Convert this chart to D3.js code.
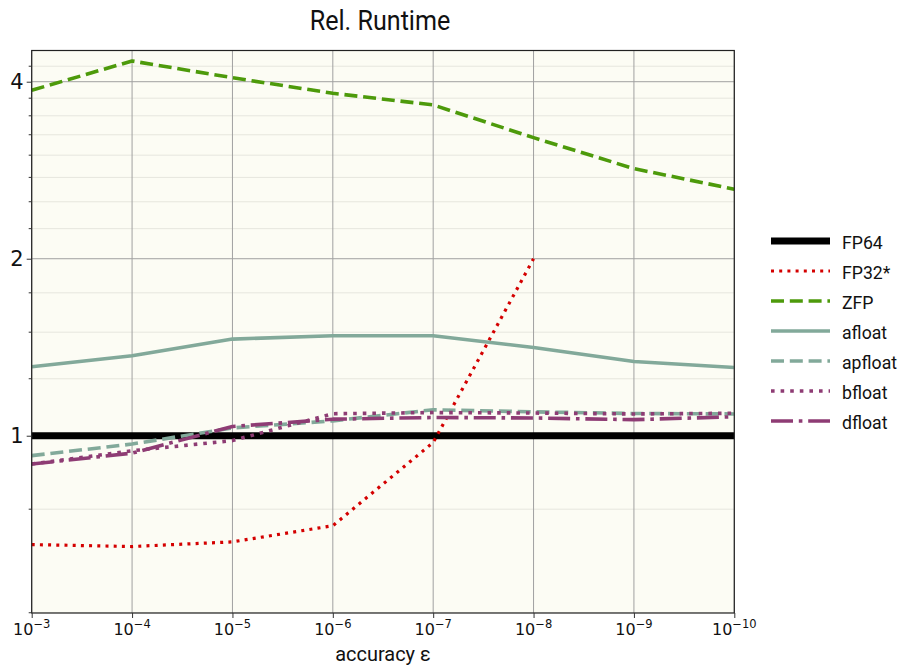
<!DOCTYPE html>
<html>
<head>
<meta charset="utf-8">
<script src="https://cdn.jsdelivr.net/npm/d3@7"></script>
<style>
  html, body { margin: 0; padding: 0; background: #ffffff; }
  svg { display: block; }
</style>
</head>
<body>
<svg id="chart" width="903" height="666"></svg>
<script>
// accuracy exponents (10^-k)
const exponents = [3, 4, 5, 6, 7, 8, 9, 10];

// relative runtime per format
const fp64    = [1, 1, 1, 1, 1, 1, 1, 1];
const fp32    = [0.653, 0.648, 0.660, 0.703, 0.974, 2.0];
const zfp     = [3.868, 4.338, 4.063, 3.823, 3.652, 3.213, 2.846, 2.626];
const afloat  = [1.310, 1.368, 1.460, 1.479, 1.479, 1.413, 1.337, 1.306];
const apfloat = [0.925, 0.968, 1.031, 1.060, 1.107, 1.098, 1.091, 1.089];
const bfloat  = [0.895, 0.943, 0.981, 1.090, 1.095, 1.093, 1.089, 1.092];
const dfloat  = [0.895, 0.934, 1.037, 1.067, 1.074, 1.072, 1.065, 1.077];

const yMajor = [1, 2, 4];
const yMinor = [0.5, 0.75, 1.25, 1.5, 1.75, 2.25, 2.5, 2.75, 3, 3.25, 3.5, 3.75, 4.25];

const series = [
  { name: "FP64",    values: fp64,    color: "#000000", width: 7,   dash: null },
  { name: "FP32*",   values: fp32,    color: "#d40000", width: 3.2, dash: "3,5.2" },
  { name: "ZFP",     values: zfp,     color: "#4d9a0b", width: 3.6, dash: "13,5.8" },
  { name: "afloat",  values: afloat,  color: "#82a99a", width: 3.6, dash: null },
  { name: "apfloat", values: apfloat, color: "#82a99a", width: 3.6, dash: "13,5.8" },
  { name: "bfloat",  values: bfloat,  color: "#8e3c74", width: 3.6, dash: "3.6,6" },
  { name: "dfloat",  values: dfloat,  color: "#8e3c74", width: 3.6, dash: "22,5.8,3.6,5.8" }
];

const svg = d3.select("#chart");
const plotLeft = 31.7, plotRight = 734.3, plotTop = 50.5, plotBottom = 613;

const x = d3.scaleLog().domain([1e-3, 1e-10]).range([plotLeft, plotRight]);
const y = d3.scaleLog().base(2).domain([0.4995, 4.52]).range([plotBottom, plotTop]);

// narrow a Roboto label horizontally, like a condensed face
function condense(sel, factor) {
  sel.each(function () {
    const w = this.getComputedTextLength();
    d3.select(this).attr("textLength", w * factor).attr("lengthAdjust", "spacingAndGlyphs");
  });
}

// plot background
svg.append("rect")
  .attr("x", plotLeft).attr("y", plotTop)
  .attr("width", plotRight - plotLeft).attr("height", plotBottom - plotTop)
  .attr("fill", "#fcfcf4");

// minor horizontal grid
svg.append("g").selectAll("line").data(yMinor).join("line")
  .attr("x1", plotLeft).attr("x2", plotRight)
  .attr("y1", d => y(d)).attr("y2", d => y(d))
  .attr("stroke", "#e6e6de").attr("stroke-width", 1);

// major grid
svg.append("g").selectAll("line").data(yMajor).join("line")
  .attr("x1", plotLeft).attr("x2", plotRight)
  .attr("y1", d => y(d)).attr("y2", d => y(d))
  .attr("stroke", "#a0a0a0").attr("stroke-width", 1);

svg.append("g").selectAll("line").data(exponents).join("line")
  .attr("x1", d => x(Math.pow(10, -d))).attr("x2", d => x(Math.pow(10, -d)))
  .attr("y1", plotTop).attr("y2", plotBottom)
  .attr("stroke", "#a0a0a0").attr("stroke-width", 1);

// lines
const plot = svg.append("g");
series.forEach(s => {
  const line = d3.line()
    .x((d, i) => x(Math.pow(10, -exponents[i])))
    .y(d => y(d));
  plot.append("path")
    .datum(s.values)
    .attr("d", line)
    .attr("fill", "none")
    .attr("stroke", s.color)
    .attr("stroke-width", s.width)
    .attr("stroke-dasharray", s.dash)
    .attr("stroke-linecap", "butt")
    .attr("stroke-linejoin", "round");
});

// frame
svg.append("rect")
  .attr("x", plotLeft).attr("y", plotTop)
  .attr("width", plotRight - plotLeft).attr("height", plotBottom - plotTop)
  .attr("fill", "none").attr("stroke", "#222").attr("stroke-width", 1.2);

// y axis
const yAxis = svg.append("g").attr("transform", `translate(${plotLeft},0)`)
  .call(d3.axisLeft(y).tickValues(yMajor).tickFormat(d3.format("d")).tickSize(5).tickPadding(3));
yAxis.select(".domain").remove();
yAxis.selectAll("text").attr("font-family", "DejaVu Sans").attr("font-size", 21).attr("fill", "#111");
yAxis.selectAll("line").attr("stroke", "#333");

svg.append("g").selectAll("line").data(yMinor).join("line")
  .attr("x1", plotLeft - 3).attr("x2", plotLeft)
  .attr("y1", d => y(d)).attr("y2", d => y(d))
  .attr("stroke", "#333").attr("stroke-width", 1);

// x axis with superscript exponents
const xAxis = svg.append("g").attr("transform", `translate(0,${plotBottom})`)
  .call(d3.axisBottom(x).tickValues(exponents.map(e => Math.pow(10, -e))).tickFormat("").tickSize(5));
xAxis.select(".domain").remove();
xAxis.selectAll("line").attr("stroke", "#333");

const xl = svg.append("g");
exponents.forEach(e => {
  const t = xl.append("text")
    .attr("x", x(Math.pow(10, -e)))
    .attr("y", 635)
    .attr("text-anchor", "middle")
    .attr("font-family", "DejaVu Sans")
    .attr("font-size", 16)
    .attr("fill", "#111");
  t.append("tspan").text("10");
  t.append("tspan").attr("dy", -7).attr("font-size", 11.5).text("\u2212" + e);
});

// axis title and chart title
svg.append("text")
  .attr("x", 383).attr("y", 661)
  .attr("text-anchor", "middle")
  .attr("font-family", "Roboto").attr("font-size", 21)
  .attr("fill", "#111")
  .text("accuracy \u03b5")
  .call(condense, 0.95);

svg.append("text")
  .attr("x", 380).attr("y", 30)
  .attr("text-anchor", "middle")
  .attr("font-family", "Roboto").attr("font-size", 27)
  .attr("fill", "#111")
  .text("Rel. Runtime")
  .call(condense, 0.93);

// legend
const legend = svg.append("g");
series.forEach((s, i) => {
  const yy = 241 + i * 30;
  legend.append("line")
    .attr("x1", 771).attr("x2", 830)
    .attr("y1", yy).attr("y2", yy)
    .attr("stroke", s.color)
    .attr("stroke-width", s.width)
    .attr("stroke-dasharray", s.dash);
  legend.append("text")
    .attr("x", 842).attr("y", yy + 7.5)
    .attr("font-family", "Roboto").attr("font-size", 19)
    .attr("fill", "#111")
    .text(s.name)
    .call(condense, 0.93);
});
</script>
</body>
</html>
